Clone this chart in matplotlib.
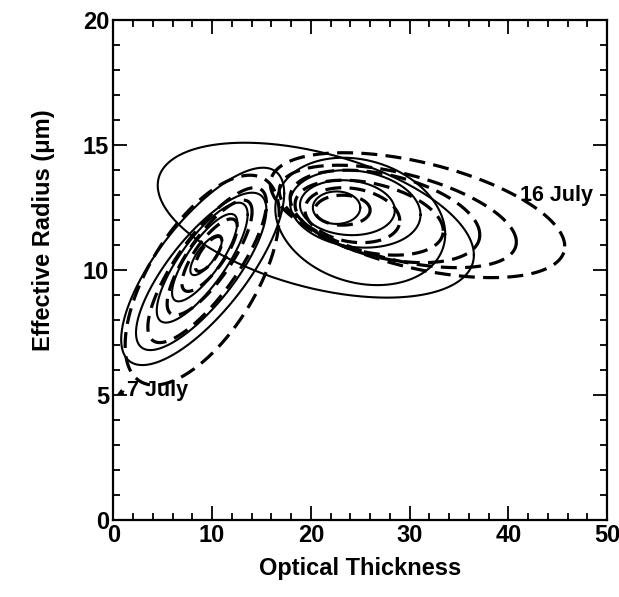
import numpy as np
import matplotlib.pyplot as plt

# each row: centre x, centre y, half-extent x, half-extent y, tilt (correlation)
jul7_solid = [
    [9.05, 10.15, 8.25, 3.95, 0.74],
    [8.9, 9.95, 6.6, 3.15, 0.78],
    [9.0, 10.3, 4.6, 2.4, 0.80],
    [9.25, 10.5, 3.3, 1.75, 0.80],
    [9.4, 10.6, 1.6, 0.8, 0.75],
]
jul7_dashed = [
    [9.0, 9.6, 7.8, 4.2, 0.62],
    [9.5, 10.2, 6.0, 3.1, 0.80],
    [9.75, 10.5, 4.3, 2.3, 0.80],
    [9.75, 10.6, 2.8, 1.45, 0.78],
    [9.65, 10.65, 1.35, 0.7, 0.72],
]
jul16_solid = [
    [20.5, 12.0, 16.0, 3.1, -0.45],
    [25.0, 11.95, 8.6, 2.55, -0.20],
    [24.5, 12.45, 6.6, 1.55, -0.15],
    [23.7, 12.5, 4.8, 1.1, -0.10],
    [22.6, 12.5, 2.4, 0.65, 0.0],
]
jul16_dashed = [
    [30.8, 12.2, 14.9, 2.5, -0.50],
    [28.8, 12.15, 12.0, 2.05, -0.50],
    [27.5, 12.15, 9.6, 1.85, -0.40],
    [25.9, 12.1, 7.5, 1.5, -0.35],
    [24.2, 12.2, 4.8, 1.1, -0.20],
    [23.2, 12.4, 2.8, 0.6, 0.0],
]

xticks = [0, 10, 20, 30, 40, 50]
yticks = [0, 5, 10, 15, 20]

plt.rcParams['font.family'] = ['Liberation Sans', 'DejaVu Sans']
plt.rcParams['font.weight'] = 'bold'


def ring(cx, cy, sx, sy, rho):
    t = np.linspace(0, 2 * np.pi, 400)
    x = cx + sx * np.cos(t)
    y = cy + sy * (rho * np.cos(t) + np.sqrt(1 - rho ** 2) * np.sin(t))
    return x, y


fig = plt.figure(figsize=(6.19, 5.97), dpi=100)
ax = fig.add_axes([0.183, 0.129, 0.798, 0.837])

for group in (jul7_solid, jul16_solid):
    for r in group:
        x, y = ring(*r)
        ax.plot(x, y, color="black", lw=1.5)
for group in (jul7_dashed, jul16_dashed):
    for r in group:
        x, y = ring(*r)
        ax.plot(x, y, color="black", lw=2.3, dashes=(5, 2.6))

ax.text(1.4, 5.2, "7 July", fontsize=15.5, fontweight="bold", va="center", ha="left")
ax.annotate("", xy=(0.1, 4.95), xytext=(1.3, 5.2),
            arrowprops=dict(arrowstyle="-|>", color="black", lw=1.2, mutation_scale=8))
ax.text(41.2, 13.0, "16 July", fontsize=15.5, fontweight="bold", va="center", ha="left")

ax.set_xlim(0, 50)
ax.set_ylim(0, 20)
ax.set_xticks(xticks)
ax.set_yticks(yticks)
ax.set_xticks(np.arange(0, 51, 2), minor=True)
ax.set_yticks(np.arange(0, 21, 1), minor=True)
ax.tick_params(which="both", direction="in", top=True, right=True, width=1.3)
ax.tick_params(which="major", length=10, labelsize=17, pad=3)
ax.tick_params(which="minor", length=5)
for s in ax.spines.values():
    s.set_linewidth(1.6)

ax.set_xlabel("Optical Thickness", fontsize=17, fontweight="bold")
ax.set_ylabel("Effective Radius (μm)", fontsize=17, fontweight="bold")
ax.xaxis.set_label_coords(0.5, -0.074)
ax.yaxis.set_label_coords(-0.118, 0.58)

fig.savefig("out.png", dpi=100)
